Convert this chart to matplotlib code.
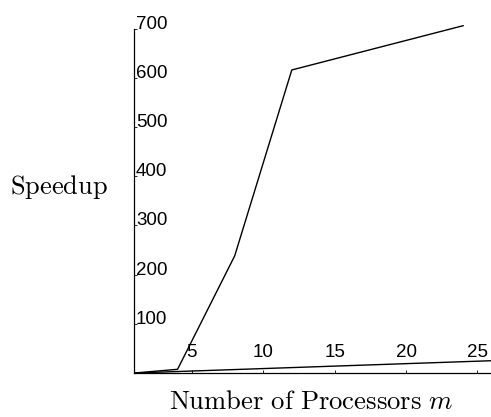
import matplotlib
matplotlib.use("Agg")
import matplotlib.pyplot as plt
from matplotlib import font_manager

# Data
m_a = [1, 4, 8, 12, 24]
speedup_a = [0, 7.5, 238, 616, 706]
m_b = [1, 4, 8, 12, 16, 20, 24, 26]
speedup_b = [0, 3, 7, 11, 15, 19, 23, 25]
xticks = [5, 10, 15, 20, 25]
yticks = [100, 200, 300, 400, 500, 600, 700]

plt.rcParams['mathtext.fontset'] = 'cm'

names = {f.name for f in font_manager.fontManager.ttflist}
narrow = 'Liberation Sans Narrow' in names
tickfam = ['Liberation Sans Narrow'] if narrow else ['Liberation Sans']
ticksize = 14 if narrow else 13.5

fig = plt.figure(figsize=(4.91, 4.17), dpi=100)
ax = fig.add_axes([134/491, 44/417, 357/491, 347.8/417])

ax.plot(m_a, speedup_a, color='black', lw=1.0, clip_on=True)
ax.plot(m_b, speedup_b, color='black', lw=1.0, clip_on=True)

ax.set_xlim(0.95, 25.95)
ax.set_ylim(0, 707)

for s in ['top', 'right']:
    ax.spines[s].set_visible(False)
ax.spines['left'].set_bounds(0, 700)
ax.spines['left'].set_linewidth(0.9)
ax.spines['bottom'].set_linewidth(0.9)

ax.set_xticks(xticks)
ax.set_yticks(yticks)
ax.set_xticklabels([str(v) for v in xticks])
ax.set_yticklabels([str(v) for v in yticks])
ax.tick_params(axis='both', direction='in', length=2.5, width=0.6, labelsize=ticksize)
ax.tick_params(axis='y', pad=-1.5)
ax.tick_params(axis='x', pad=-11.5)
for t in ax.get_yticklabels():
    t.set_ha('left'); t.set_va('baseline'); t.set_family(tickfam)
for t in ax.get_xticklabels():
    t.set_ha('center'); t.set_va('baseline'); t.set_family(tickfam)

fig.text(59/491, 1 - 187/417, r'$\mathrm{Speedup}$', ha='center', va='center', fontsize=19)
fig.text(311/491, 1 - 402/417, r'$\mathrm{Number\ of\ Processors}\ m$', ha='center', va='center', fontsize=19.2)

fig.savefig('out.png', dpi=100)
